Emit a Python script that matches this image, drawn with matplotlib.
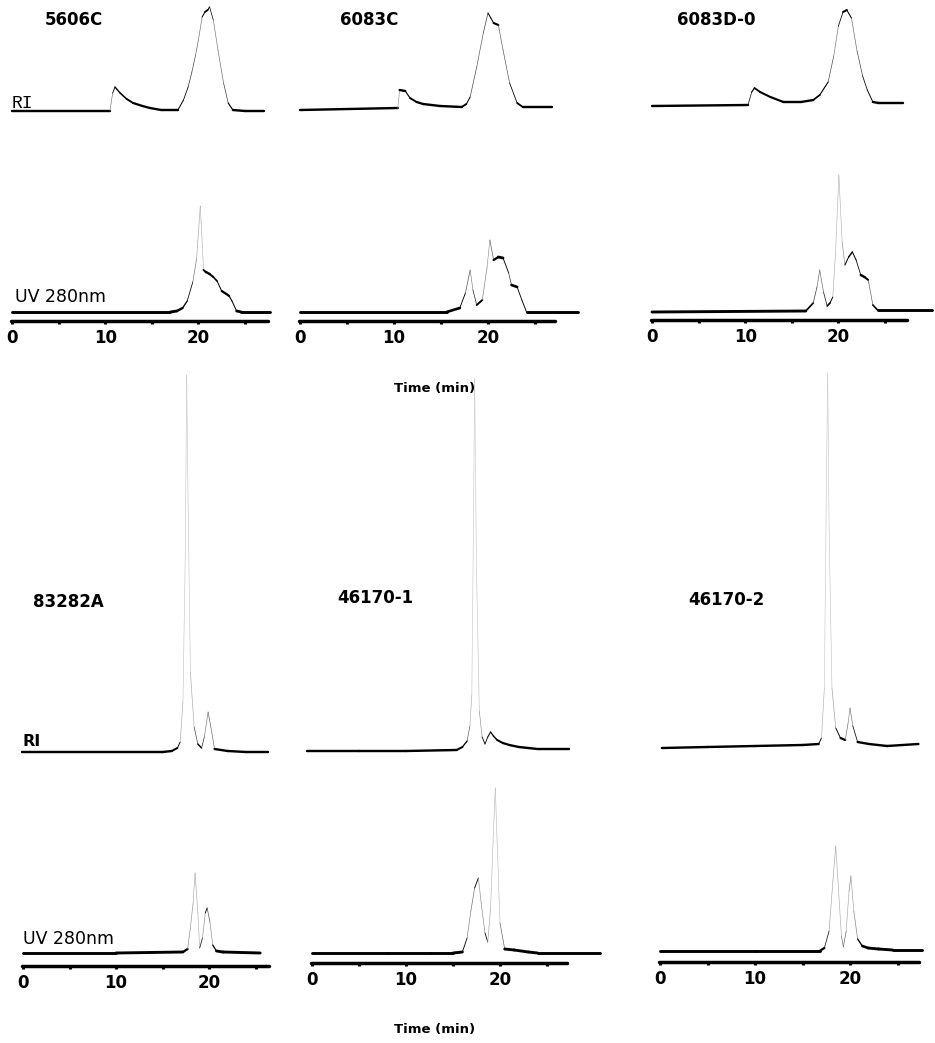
import numpy as np
import matplotlib
matplotlib.use("Agg")
import matplotlib.pyplot as plt
from matplotlib.collections import LineCollection

# ---------------- data (time in min, signal height in arbitrary units) ----------------
samples = ["5606C", "6083C", "6083D-0", "83282A", "46170-1", "46170-2"]
major_ticks = [0, 10, 20]
minor_ticks = [5, 15, 25]
tick_labels = ["0", "10", "20"]

ri_5606C_t = [0, 10.5, 10.8, 11.05, 11.6, 12.3, 13.0, 14.0, 14.8, 16.0, 17.8, 18.4, 18.9, 19.3, 19.7,
              20.0, 20.4, 20.7, 21.0, 21.2, 21.6, 22.1, 22.7, 23.2, 23.7, 25.0, 27.0]
ri_5606C_h = [0, 0, 18, 24, 18, 12, 8, 5, 3, 1, 1, 11, 24, 39, 56,
              71, 94, 99, 101, 104, 91, 61, 28, 8, 1, 0, 0]
uv_5606C_t = [0, 17.0, 17.7, 18.3, 18.8, 19.4, 19.8, 20.05, 20.2, 20.35, 20.55, 20.8, 21.2, 21.6,
              22.0, 22.5, 23.0, 23.3, 23.6, 24.1, 24.6, 27.7]
uv_5606C_h = [0, 0, 1, 4, 11, 30, 53, 85, 106, 80, 42, 40, 38, 35,
              31, 21, 18, 16, 11, 1, 0, 0]

ri_6083C_t = [0, 10.4, 10.6, 11.2, 11.7, 12.4, 13.1, 14.9, 17.2, 17.7, 18.1, 18.8, 19.5, 20.0,
              20.3, 20.6, 21.1, 21.6, 22.3, 23.1, 23.7, 26.8]
ri_6083C_h = [0, 2, 20, 19, 12, 8, 6, 4, 3, 6, 13, 43, 77, 97,
              92, 87, 85, 60, 27, 7, 3, 3]
uv_6083C_t = [0, 15.6, 17.0, 17.6, 18.1, 18.4, 18.8, 19.4, 19.9, 20.2, 20.6, 21.1, 21.6, 22.2,
              22.5, 23.1, 23.6, 24.1, 29.6]
uv_6083C_h = [0, 0, 4, 19, 42, 22, 7, 12, 45, 72, 52, 55, 54, 39,
              27, 25, 12, 0, 0]

ri_6083D_t = [0, 10.3, 10.7, 11.0, 11.6, 12.7, 14.1, 16.0, 17.3, 18.0, 18.9, 19.5, 20.0, 20.5,
              20.9, 21.4, 22.0, 22.6, 23.1, 23.7, 24.3, 26.9]
ri_6083D_h = [0, 1, 14, 18, 14, 9, 4, 4, 6, 11, 24, 50, 80, 94,
              96, 88, 55, 30, 16, 4, 3, 3]
uv_6083D_t = [0, 16.5, 17.3, 17.7, 18.0, 18.4, 18.8, 19.1, 19.4, 19.7, 20.05, 20.4, 20.7, 21.1,
              21.5, 21.9, 22.4, 22.8, 23.2, 23.7, 24.2, 30.0]
uv_6083D_h = [0, 1, 9, 25, 42, 20, 6, 9, 15, 60, 137, 70, 47, 55,
              60, 52, 37, 35, 32, 7, 2, 2]

ri_83282A_t = [-0.1, 5, 10, 15, 16.0, 16.6, 16.9, 17.2, 17.45, 17.6, 17.75, 18.0, 18.4, 18.8,
               19.2, 19.5, 19.9, 20.2, 20.6, 22, 24, 26.3]
ri_83282A_h = [0, 0, 0, 0, 1, 4, 10, 50, 200, 377, 250, 80, 25, 8,
               4, 15, 40, 25, 3, 1, 0, 0]
uv_83282A_t = [0, 10, 17.2, 17.7, 18.0, 18.3, 18.5, 18.8, 19.0, 19.3, 19.6, 19.8, 20.1, 20.4,
               20.8, 21.5, 25.5]
uv_83282A_h = [0, 0, 1, 4, 25, 51, 80, 40, 5, 15, 40, 45, 31, 8,
               2, 1, 0]

ri_46170_1_t = [-0.5, 5, 10, 15.4, 16.0, 16.5, 16.8, 17.0, 17.15, 17.3, 17.5, 17.8, 18.1, 18.4,
                18.7, 19.0, 19.3, 19.7, 20.3, 21.0, 22.0, 24.0, 27.3]
ri_46170_1_h = [0, 0, 0, 1, 4, 10, 25, 56, 200, 372, 180, 40, 14, 7,
                14, 19, 15, 11, 8, 6, 4, 2, 2]
uv_46170_1_t = [0, 8, 12.6, 15.0, 16.0, 16.5, 16.9, 17.3, 17.7, 18.0, 18.4, 18.7, 19.0, 19.3,
                19.5, 19.7, 20.0, 20.5, 21.5, 23.0, 24.0, 30.6]
uv_46170_1_h = [0, 0, 0, 0, 1, 15, 42, 65, 75, 50, 20, 11, 45, 120,
                165, 110, 30, 4, 3, 1, 0, 0]

ri_46170_2_t = [0.2, 5, 10, 15, 16.7, 17.0, 17.3, 17.5, 17.65, 17.8, 18.1, 18.5, 19.0, 19.5,
                19.8, 20.0, 20.3, 20.8, 22.0, 23.9, 27.2]
ri_46170_2_h = [0, 1, 2, 3, 4, 10, 60, 250, 375, 220, 60, 20, 10, 8,
                25, 40, 22, 6, 4, 2, 4]
uv_46170_2_t = [0, 10, 16.8, 17.3, 17.8, 18.2, 18.5, 18.8, 19.1, 19.3, 19.6, 19.9, 20.1, 20.4,
                20.8, 21.3, 21.9, 23.0, 24.5, 27.6]
uv_46170_2_h = [0, 0, 0, 3, 20, 70, 105, 60, 15, 4, 20, 60, 75, 40,
                12, 5, 3, 2, 1, 1]

ri_traces = [(ri_5606C_t, ri_5606C_h), (ri_6083C_t, ri_6083C_h), (ri_6083D_t, ri_6083D_h),
             (ri_83282A_t, ri_83282A_h), (ri_46170_1_t, ri_46170_1_h), (ri_46170_2_t, ri_46170_2_h)]
uv_traces = [(uv_5606C_t, uv_5606C_h), (uv_6083C_t, uv_6083C_h), (uv_6083D_t, uv_6083D_h),
             (uv_83282A_t, uv_83282A_h), (uv_46170_1_t, uv_46170_1_h), (uv_46170_2_t, uv_46170_2_h)]

# ---------------- layout (pixels) ----------------
W, H = 935, 1043
DPI = 100
geom = [
    dict(x0=12, s=9.32, ay=321, end=27.5, ri=210, uv=9, name=(45, 20)),
    dict(x0=300, s=9.40, ay=321, end=27.1, ri=211, uv=9, name=(340, 20)),
    dict(x0=652, s=9.32, ay=320, end=27.4, ri=214, uv=8, name=(677, 20)),
    dict(x0=23, s=9.30, ay=966, end=26.5, ri=214, uv=13, name=(33, 602)),
    dict(x0=312, s=9.40, ay=963, end=27.1, ri=212, uv=10, name=(337, 598)),
    dict(x0=660, s=9.50, ay=962, end=27.3, ri=214, uv=11, name=(688, 600)),
]
XMIN, XMAX = -1.5, 31.5
PT = 72.0 / DPI

fig = plt.figure(figsize=(W / DPI, H / DPI), dpi=DPI)
fig.patch.set_facecolor("white")


def fx(px):
    return px / W


def fy(py):
    return 1 - py / H


def draw_trace(ax, t, h, offset, s, base_w):
    t = np.asarray(t, float)
    y = np.asarray(h, float) + offset
    pts = np.column_stack([t, y])
    segs = np.stack([pts[:-1], pts[1:]], axis=1)
    dx = np.diff(t) * s
    dy = np.diff(y)
    f = np.abs(dx) / np.maximum(np.hypot(dx, dy), 1e-9)
    lw = (0.6 + (base_w - 0.6) * f ** 2) * PT
    g = 0.8 * np.clip((0.28 - f) / 0.28, 0, 1) ** 0.7
    cols = [(gi, gi, gi) for gi in g]
    lc = LineCollection(segs, linewidths=lw, colors=cols, capstyle="round", joinstyle="round")
    ax.add_collection(lc)


for i, gm in enumerate(geom):
    top_px = gm["ay"] - (600 if i >= 3 else 321)
    height_px = gm["ay"] - top_px
    left_px = gm["x0"] + XMIN * gm["s"]
    width_px = (XMAX - XMIN) * gm["s"]
    ax = fig.add_axes([fx(left_px), fy(gm["ay"]), fx(width_px), height_px / H])
    ax.set_xlim(XMIN, XMAX)
    ax.set_ylim(0, height_px)
    ax.patch.set_alpha(0)
    for sp in ["top", "right", "left"]:
        ax.spines[sp].set_visible(False)
    ax.spines["bottom"].set_linewidth(2.5)
    ax.spines["bottom"].set_bounds(-0.1, gm["end"])
    ax.spines["bottom"].set_capstyle("round")
    ax.set_yticks([])
    ax.set_xticks(major_ticks)
    ax.set_xticklabels(tick_labels)
    ax.set_xticks(minor_ticks, minor=True)
    ax.tick_params(axis="x", which="both", direction="out", length=2.5, width=2.2,
                   pad=3.5, labelsize=12)
    for lab in ax.get_xticklabels():
        lab.set_fontweight("bold")
    rt, rh = ri_traces[i]
    ut, uh = uv_traces[i]
    draw_trace(ax, rt, rh, gm["ri"], gm["s"], 2.4)
    draw_trace(ax, ut, uh, gm["uv"], gm["s"], 2.9)
    nx, ny = gm["name"]
    fig.text(fx(nx), fy(ny), samples[i], ha="left", va="center", fontsize=12,
             fontweight="bold", family="DejaVu Sans")

# channel labels
fig.text(fx(12), fy(103), "RI", ha="left", va="center", fontsize=13,
         family="Liberation Mono")
fig.text(fx(15), fy(297), "UV 280nm", ha="left", va="center", fontsize=12.5,
         family="DejaVu Sans", fontweight="medium")
fig.text(fx(22), fy(742), "RI", ha="left", va="center", fontsize=11.5,
         fontweight="bold", family="DejaVu Sans")
fig.text(fx(23), fy(939), "UV 280nm", ha="left", va="center", fontsize=12.5,
         family="DejaVu Sans", fontweight="medium")

# axis titles
fig.text(fx(435), fy(388), "Time (min)", ha="center", va="center", fontsize=9.5,
         fontweight="bold", family="DejaVu Sans")
fig.text(fx(435), fy(1030), "Time (min)", ha="center", va="center", fontsize=9.5,
         fontweight="bold", family="DejaVu Sans")

fig.savefig("out.png", dpi=DPI, facecolor="white")
